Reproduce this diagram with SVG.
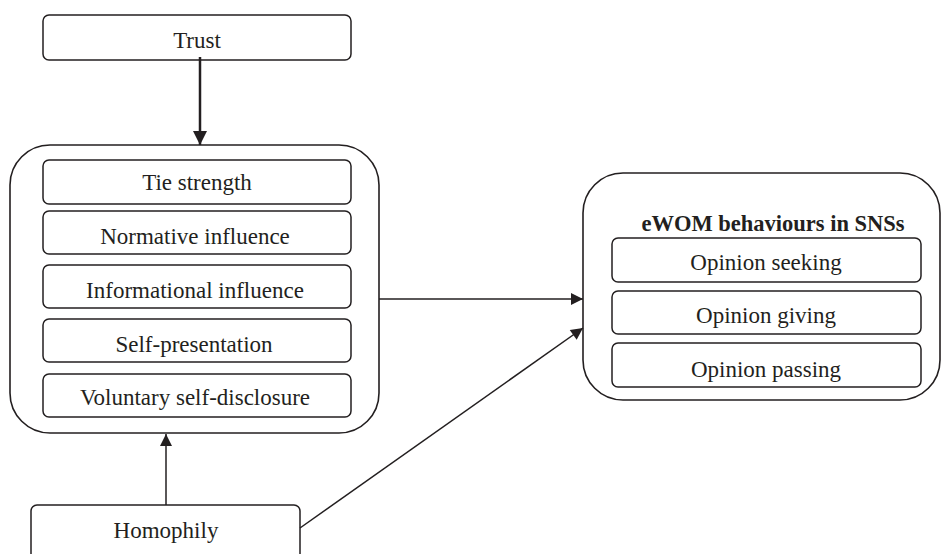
<svg xmlns="http://www.w3.org/2000/svg" width="941" height="554" viewBox="0 0 941 554">
<style>
.box{fill:#fff;stroke:#231f20;stroke-width:1.5}
.cont{fill:#fff;stroke:#231f20;stroke-width:1.6}
.t{font-family:"Liberation Serif","Times New Roman",serif;font-size:23px;fill:#231f20;text-anchor:middle}
.b{font-weight:bold;font-size:22.5px}
.c{stroke:#231f20;stroke-width:1.5;fill:none}
</style>
<defs>
<marker id="ah" viewBox="0 0 10 10" refX="10" refY="5" markerWidth="13" markerHeight="12" markerUnits="userSpaceOnUse" orient="auto">
<path d="M0,0L10,5L0,10Z" fill="#231f20"/>
</marker>
<marker id="ah2" viewBox="0 0 10 10" refX="10" refY="5" markerWidth="14" markerHeight="14" markerUnits="userSpaceOnUse" orient="auto">
<path d="M0,0L10,5L0,10Z" fill="#231f20"/>
</marker>
</defs>
<rect width="941" height="554" fill="#fff"/>
<g id="trust">
<rect class="box" x="43" y="15" width="308" height="45" rx="6"/>
<text class="t" x="197" y="48">Trust</text>
</g>
<g id="antecedents">
<rect class="cont" x="10" y="145" width="369" height="288" rx="40"/>
<g id="tie-strength"><rect class="box" x="43" y="160" width="308" height="44" rx="6"/><text class="t" x="197" y="190">Tie strength</text></g>
<g id="normative-influence"><rect class="box" x="43" y="211" width="308" height="43" rx="6"/><text class="t" x="195" y="244">Normative influence</text></g>
<g id="informational-influence"><rect class="box" x="43" y="265" width="308" height="43" rx="6"/><text class="t" x="195" y="298">Informational influence</text></g>
<g id="self-presentation"><rect class="box" x="43" y="319" width="308" height="43" rx="6"/><text class="t" x="194" y="352">Self-presentation</text></g>
<g id="voluntary-self-disclosure"><rect class="box" x="43" y="374" width="308" height="43" rx="6"/><text class="t" x="195" y="405">Voluntary self-disclosure</text></g>
</g>
<g id="homophily">
<rect class="box" x="31" y="505" width="269" height="60" rx="6"/>
<text class="t" x="166" y="538">Homophily</text>
</g>
<g id="ewom">
<rect class="cont" x="583" y="173" width="357" height="227" rx="40"/>
<text class="t b" x="773" y="231">eWOM behaviours in SNSs</text>
<g id="opinion-seeking"><rect class="box" x="612" y="238" width="309" height="44" rx="6"/><text class="t" x="766" y="270">Opinion seeking</text></g>
<g id="opinion-giving"><rect class="box" x="612" y="291" width="309" height="43" rx="6"/><text class="t" x="766" y="323">Opinion giving</text></g>
<g id="opinion-passing"><rect class="box" x="612" y="343" width="309" height="44" rx="6"/><text class="t" x="766" y="377">Opinion passing</text></g>
</g>
<g id="connectors">
<line class="c" x1="200" y1="57" x2="200" y2="145" style="stroke-width:2.5" marker-end="url(#ah2)"/>
<line class="c" x1="166" y1="505" x2="166" y2="434" marker-end="url(#ah)"/>
<line class="c" x1="379" y1="299" x2="583" y2="299" marker-end="url(#ah)"/>
<line class="c" x1="300" y1="528" x2="583" y2="328" marker-end="url(#ah)"/>
</g>
</svg>
